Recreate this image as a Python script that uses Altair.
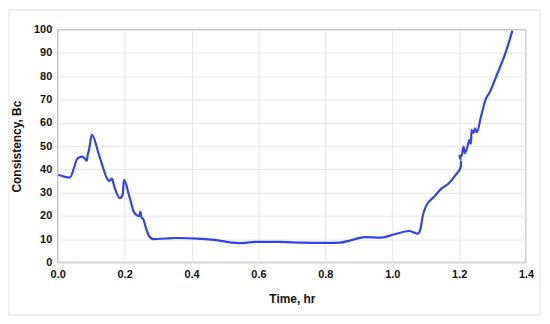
import altair as alt
import pandas as pd

time_hr = [0.002, 0.036, 0.06, 0.073, 0.08, 0.087, 0.09, 0.093, 0.102, 0.125, 0.15, 0.154, 0.162,
           0.169, 0.186, 0.194, 0.198, 0.214, 0.229, 0.244, 0.247, 0.25, 0.256, 0.265, 0.273, 0.285,
           0.323, 0.353, 0.42, 0.48, 0.52, 0.544, 0.59, 0.66, 0.73, 0.8, 0.843, 0.878, 0.918, 0.967,
           1.007, 1.051, 1.066, 1.076, 1.084, 1.091, 1.101, 1.126, 1.146, 1.17, 1.19, 1.205, 1.206,
           1.2, 1.207, 1.213, 1.217, 1.225, 1.23, 1.235, 1.237, 1.243, 1.247, 1.253, 1.265, 1.28,
           1.29, 1.314, 1.339, 1.359]
consistency_bc = [37.7, 36.5, 44.8, 45.5, 44.8, 43.7, 46.6, 48.0, 54.8, 45.5, 35.5, 35.0, 36.0,
                  32.7, 27.7, 29.0, 35.5, 28.4, 21.3, 19.9, 21.8, 19.5, 18.5, 14.2, 11.4, 10.0,
                  10.3, 10.5, 10.2, 9.5, 8.5, 8.3, 8.8, 8.8, 8.5, 8.4, 8.5, 9.6, 10.9, 10.7,
                  12.1, 13.5, 12.8, 12.4, 14.2, 19.9, 24.2, 28.4, 31.6, 34.1, 37.7, 41.2, 44.0,
                  46.2, 45.6, 49.8, 47.0, 49.8, 52.6, 51.0, 56.9, 55.7, 57.6, 56.0, 62.6, 70.4,
                  72.8, 81.1, 90.3, 99.6]

x_ticks = [0.0, 0.2, 0.4, 0.6, 0.8, 1.0, 1.2, 1.4]
y_ticks = [0, 10, 20, 30, 40, 50, 60, 70, 80, 90, 100]

df = pd.DataFrame({"t": time_hr, "c": consistency_bc, "i": list(range(len(time_hr)))})

line = alt.Chart(df).mark_line(color="#3340f0", strokeWidth=2.2, interpolate="monotone").encode(
    x=alt.X("t:Q", scale=alt.Scale(domain=[0, 1.4], nice=False),
            axis=alt.Axis(values=x_ticks, format=".1f", title="Time, hr", titlePadding=14,
                          labelFlush=False)),
    y=alt.Y("c:Q", scale=alt.Scale(domain=[0, 100], nice=False),
            axis=alt.Axis(values=y_ticks, title="Consistency, Bc", titlePadding=10)),
    order="i:Q",
)

frame = alt.Chart(pd.DataFrame({"a": [0]})).mark_rect(
    fill="white", fillOpacity=0, stroke="#e6e6e6", strokeWidth=1.2, clip=False
).encode(
    x=alt.value(-49), x2=alt.value(485), y=alt.value(-20), y2=alt.value(287)
)

chart = alt.layer(frame, line).properties(
    width=471, height=234,
    autosize=alt.AutoSizeParams(type="none"),
    padding={"left": 50, "top": 21, "right": 16, "bottom": 54},
    background="white",
).configure_view(
    stroke="#b8b8b8", strokeWidth=1.5
).configure_axis(
    labelFont="Liberation Sans", labelFontWeight="bold", labelFontSize=11, labelColor="#111",
    titleFont="Liberation Sans", titleFontWeight="bold", titleFontSize=12, titleColor="#111",
    grid=True, gridColor="#e8e8e8", gridWidth=1, domain=False, ticks=False, labelPadding=6,
)

chart.save("out.html", embed_options={"renderer": "svg", "actions": False})
